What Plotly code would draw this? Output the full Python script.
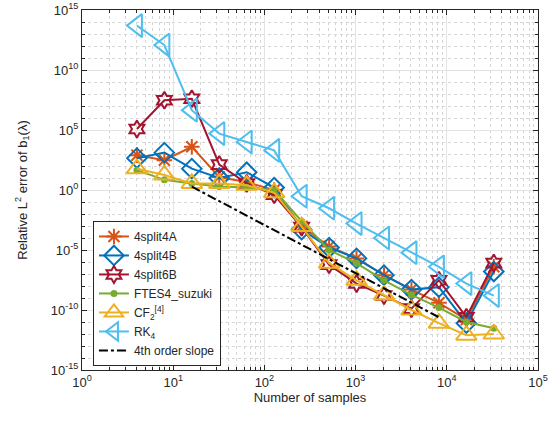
import plotly.graph_objects as go

samples = [4, 8, 16, 32, 64, 128, 256, 512, 1024, 2048, 4096, 8192, 16384, 32768]

err_4split4A = [8e2, 3e2, 4e3, 1.2e1, 4.5, 1.0, 9e-4, 2e-5, 2e-6, 8e-8, 5e-9, 4e-10, 1.6e-11, 4e-7]
err_4split4B = [4.5e2, 1.3e3, 6e1, 1.0e1, 3e1, 1.6, 5e-4, 1.6e-5, 2e-6, 8e-8, 5e-9, 8e-9, 8e-12, 1.6e-7]
err_4split6B = [1.2e5, 3e7, 4e7, 1.3e2, 3.5, 0.4, 8e-4, 6e-7, 1.6e-8, 1.6e-9, 1.3e-10, 3e-8, 2.5e-11, 8e-7]
err_FTES4 = [4.5e1, 7, 3.5, 2.0, 1.6, 1.0, 2.5e-3, 1e-5, 8e-7, 3e-8, 1.8e-9, 1.6e-10, 1e-11, 3e-12]
err_CF24 = [6e1, 1.8e1, 3.5, 3.5, 2.5, 0.6, 9e-4, 8e-7, 3e-8, 1.8e-9, 1e-10, 8e-12, 8e-13, 1e-12]
err_RK4 = [5e13, 1.2e12, 4.5e6, 5e4, 1e4, 2e3, 3e-1, 3e-2, 1.6e-3, 1e-4, 6e-6, 4e-7, 1.6e-8, 1.6e-9]

slope_x = [16, 8192]
slope_y = [1.9, 2.5e-11]

x_tickvals = [1, 10, 100, 1000, 10000, 100000]
x_ticktext = ["10<sup>0</sup>", "10<sup>1</sup>", "10<sup>2</sup>", "10<sup>3</sup>", "10<sup>4</sup>", "10<sup>5</sup>"]
y_tickvals = [1e-15, 1e-10, 1e-5, 1, 1e5, 1e10, 1e15]
y_ticktext = ["10<sup>-15</sup>", "10<sup>-10</sup>", "10<sup>-5</sup>", "10<sup>0</sup>", "10<sup>5</sup>", "10<sup>10</sup>", "10<sup>15</sup>"]

series = [
    ("4split4A", err_4split4A, "#D95319", "asterisk-open", 13),
    ("4split4B", err_4split4B, "#0072BD", "diamond-open", 15),
    ("4split6B", err_4split6B, "#A2142F", "hexagram-open", 13),
    ("FTES4_suzuki", err_FTES4, "#77AC30", "circle", 5),
    ("CF<sub>2</sub><sup>[4]</sup>", err_CF24, "#EDB120", "triangle-up-open", 18),
    ("RK<sub>4</sub>", err_RK4, "#4DBEEE", "triangle-left-open", 20),
]

fig = go.Figure()
for name, vals, color, sym, size in series:
    fig.add_trace(go.Scatter(
        x=samples, y=vals, name=name, mode="lines+markers",
        line=dict(color=color, width=2),
        marker=dict(symbol=sym, size=size, color=color,
                    line=dict(color=color, width=2)),
    ))
fig.add_trace(go.Scatter(
    x=slope_x, y=slope_y, name="4th order slope", mode="lines",
    line=dict(color="black", width=2, dash="dashdot"),
))

axis_common = dict(
    type="log", showline=True, linecolor="#262626", linewidth=1, mirror="allticks",
    ticks="inside", ticklen=5, tickcolor="#262626", tickmode="array",
    showgrid=True, gridcolor="#E3E3E3", gridwidth=1, zeroline=False,
    tickfont=dict(size=13, color="#262626"), automargin=False,
    ticklabeloverflow="allow",
)

fig.update_xaxes(
    **axis_common, range=[0, 5], tickvals=x_tickvals, ticktext=x_ticktext,
    minor=dict(dtick="D1", ticks="inside", ticklen=3, tickcolor="#262626",
               showgrid=True, gridcolor="#D6D6D6", griddash="dot"),
    title=dict(text="Number of samples", font=dict(size=13, color="#262626"), standoff=0),
)
fig.update_yaxes(
    **axis_common, range=[-15, 15], tickvals=y_tickvals, ticktext=y_ticktext,
    minor=dict(dtick=1, ticks="inside", ticklen=3, tickcolor="#262626",
               showgrid=True, gridcolor="#D6D6D6", griddash="dot"),
    title=dict(text="Relative L<sup>2</sup> error of b<sub>1</sub>(λ)", font=dict(size=13, color="#262626"), standoff=20),
)

fig.update_layout(
    width=550, height=423,
    margin=dict(l=82, r=12, t=10, b=53),
    paper_bgcolor="white", plot_bgcolor="white",
    font=dict(family="Liberation Sans, Arial, sans-serif", color="#262626"),
    legend=dict(x=0.024, y=0.414, xanchor="left", yanchor="top",
                bgcolor="white", bordercolor="#262626", borderwidth=1,
                font=dict(size=12, color="#262626"), tracegroupgap=0),
    showlegend=True,
)

fig.write_html("out.html", config={"displayModeBar": False},
               post_script="document.body.style.margin='0';")
